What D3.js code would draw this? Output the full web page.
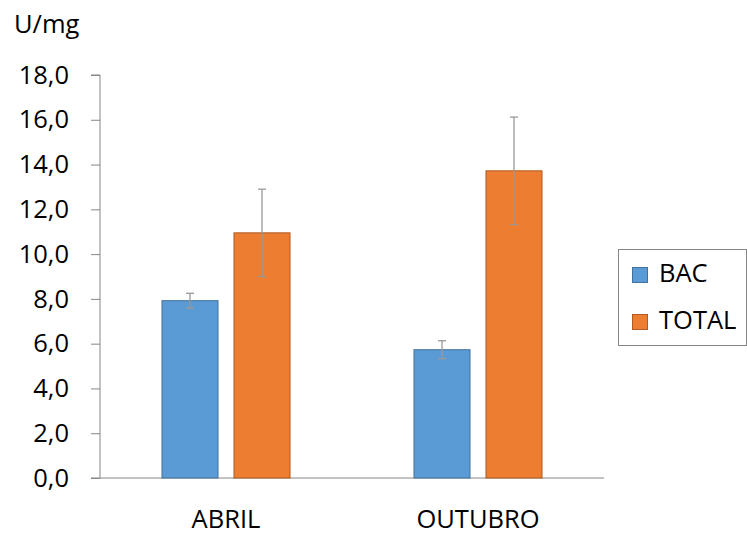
<!DOCTYPE html>
<html><head><meta charset="utf-8">
<script src="https://cdn.jsdelivr.net/npm/d3@7"></script>
<style>body{margin:0;background:#fff}svg{display:block}</style>
</head><body>
<script>
const categories = ["ABRIL", "OUTUBRO"];
const seriesNames = ["BAC", "TOTAL"];
const bacValues = [7.92, 5.73];
const totalValues = [10.95, 13.72];
const bacErrors = [0.33, 0.40];
const totalErrors = [1.95, 2.40];
const yTicks = [0, 2, 4, 6, 8, 10, 12, 14, 16, 18];
const colors = ["#5B9BD5", "#ED7D31"];
const strokes = ["#41719C", "#AE5A21"];

const W = 747, H = 540;
const font = "'Open Sans', sans-serif";
const fs = 25.5;
const svg = d3.select("body").append("svg").attr("width", W).attr("height", H);

const x0 = d3.scaleBand().domain(categories).range([100, 604]);
const y = d3.scaleLinear().domain([0, 18]).range([478, 75]);

// y axis
const yAxis = d3.axisLeft(y).tickValues(yTicks).tickSize(9).tickPadding(22)
  .tickFormat(d => d3.format(".1f")(d).replace(".", ","));
const gy = svg.append("g").attr("transform", "translate(100,0)").call(yAxis);
gy.select(".domain").attr("stroke", "#868686").attr("d", "M-9,75H0V478");
gy.selectAll(".tick line").attr("stroke", "#868686");
gy.selectAll(".tick text").attr("font-family", font).attr("font-size", fs).attr("fill", "#000");

// baseline
svg.append("line").attr("x1", 91).attr("x2", 604).attr("y1", y(0)).attr("y2", y(0))
  .attr("stroke", "#868686");

// category labels
svg.selectAll(".cat").data(categories).enter().append("text")
  .attr("x", d => x0(d) + x0.bandwidth() / 2).attr("y", 528)
  .attr("text-anchor", "middle").attr("font-family", font).attr("font-size", fs)
  .text(d => d);

// unit label
svg.append("text").attr("x", 14).attr("y", 33).attr("font-family", font)
  .attr("font-size", fs).text("U/mg");

const data = categories.map((c, i) => ({
  cat: c,
  vals: [
    { s: 0, v: bacValues[i], e: bacErrors[i] },
    { s: 1, v: totalValues[i], e: totalErrors[i] }
  ]
}));

const x1 = d3.scaleBand().domain([0, 1]).range([0, x0.bandwidth()]).paddingInner(0.222).paddingOuter(0.861);

const groups = svg.selectAll(".grp").data(data).enter().append("g")
  .attr("transform", d => `translate(${x0(d.cat)},0)`);

groups.selectAll("rect").data(d => d.vals).enter().append("rect")
  .attr("x", d => x1(d.s)).attr("width", x1.bandwidth())
  .attr("y", d => y(d.v)).attr("height", d => y(0) - y(d.v))
  .attr("fill", d => colors[d.s]).attr("stroke", d => strokes[d.s]).attr("stroke-width", 1);

// error bars
const eb = groups.selectAll(".eb").data(d => d.vals).enter().append("g")
  .attr("stroke", "#999").attr("stroke-width", 1.3);
eb.append("line").attr("x1", d => x1(d.s) + x1.bandwidth() / 2).attr("x2", d => x1(d.s) + x1.bandwidth() / 2)
  .attr("y1", d => y(d.v + d.e)).attr("y2", d => y(d.v - d.e));
[1, -1].forEach(sg => {
  eb.append("line").attr("x1", d => x1(d.s) + x1.bandwidth() / 2 - 4).attr("x2", d => x1(d.s) + x1.bandwidth() / 2 + 4)
    .attr("y1", d => y(d.v + sg * d.e)).attr("y2", d => y(d.v + sg * d.e));
});

// legend
const lg = svg.append("g");
lg.append("rect").attr("x", 618.5).attr("y", 249.5).attr("width", 128).attr("height", 96)
  .attr("fill", "#fff").attr("stroke", "#868686");
seriesNames.forEach((n, i) => {
  const base = 282 + i * 47;
  lg.append("rect").attr("x", 632.5).attr("y", base - 14.5).attr("width", 15).attr("height", 15)
    .attr("fill", colors[i]).attr("stroke", strokes[i]);
  lg.append("text").attr("x", 659).attr("y", base).attr("font-family", font)
    .attr("font-size", fs).text(n);
});
</script>
</body></html>
